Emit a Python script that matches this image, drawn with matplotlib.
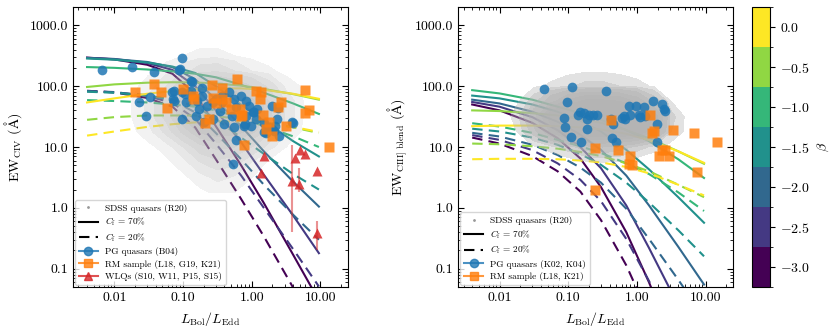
import numpy as np
import matplotlib
matplotlib.use('Agg')
import matplotlib.pyplot as plt
from matplotlib.colors import BoundaryNorm
from matplotlib.cm import ScalarMappable
from matplotlib.lines import Line2D
from matplotlib.ticker import FormatStrFormatter, NullFormatter

plt.rcParams['font.family'] = ['cmr10', 'DejaVu Serif']
plt.rcParams['mathtext.fontset'] = 'cm'
plt.rcParams['axes.formatter.use_mathtext'] = True
plt.rcParams['axes.unicode_minus'] = False
plt.rcParams['font.size'] = 10

# model grid (Eddington ratio) and spectral index values
lam = [0.004, 0.01, 0.03, 0.07, 0.15, 0.3, 0.7, 1.5, 4.0, 9.5]
betas = [-3.0, -2.5, -2.0, -1.5, -1.0, -0.5, 0.0]

# CIV model EWs, rows follow betas
civ_solid = [
    [295, 275, 225, 160, 75, 22, 5.0, 1.2, 0.17, 0.03],
    [292, 280, 240, 185, 100, 40, 12, 3.5, 0.75, 0.18],
    [290, 278, 250, 205, 130, 60, 22, 8.5, 2.7, 1.05],
    [285, 272, 245, 210, 165, 100, 50, 27, 12.5, 7.0],
    [206, 200, 188, 175, 160, 140, 105, 78, 52, 35],
    [97, 107, 114, 116, 115, 111, 102, 90, 74, 60],
    [54, 63, 75, 83, 89, 92, 92, 87, 75, 62],
]
civ_dashed = [
    [84, 79, 64, 46, 21, 6.3, 1.4, 0.34, 0.049, 0.0086],
    [83, 80, 69, 53, 29, 11.4, 3.4, 1.0, 0.21, 0.051],
    [83, 79, 71, 59, 37, 17, 6.3, 2.4, 0.77, 0.30],
    [81, 78, 70, 60, 47, 29, 14.3, 7.7, 3.6, 2.0],
    [59, 57, 54, 50, 46, 40, 30, 22, 15, 10],
    [28, 31, 33, 33, 33, 32, 29, 26, 21, 17],
    [15.4, 18, 21.4, 23.7, 25.4, 26.3, 26.3, 24.9, 21.4, 17.7],
]
# CIII] blend model EWs
ciii_solid = [
    [50, 40, 25, 14, 6.5, 2.2, 0.4, 0.06, 0.004, 0.0004],
    [55, 46, 31, 19, 10, 4.5, 1.1, 0.22, 0.025, 0.004],
    [60, 52, 38, 26, 16, 9, 3.4, 1.1, 0.23, 0.055],
    [70, 63, 50, 38, 27, 18, 9, 4.3, 1.5, 0.57],
    [86, 76, 60, 46, 36, 28, 19, 12.5, 6.3, 3.1],
    [40, 39, 36, 33, 29, 25, 19, 14, 8.5, 5.3],
    [22, 22.5, 22.5, 22, 21, 19.5, 16.5, 13, 8.5, 5.5],
]
ciii_dashed = [
    [14.3, 11.4, 7.1, 4.0, 1.86, 0.63, 0.114, 0.017, 0.0011, 0.0001],
    [15.7, 13.1, 8.9, 5.4, 2.9, 1.29, 0.31, 0.063, 0.0071, 0.0011],
    [17.1, 14.9, 10.9, 7.4, 4.6, 2.6, 0.97, 0.31, 0.066, 0.016],
    [20, 18, 14.3, 10.9, 7.7, 5.1, 2.6, 1.23, 0.43, 0.16],
    [24.6, 21.7, 17.1, 13.1, 10.3, 8.0, 5.4, 3.6, 1.8, 0.89],
    [11.4, 11.1, 10.3, 9.4, 8.3, 7.1, 5.4, 4.0, 2.4, 1.5],
    [6.3, 6.4, 6.4, 6.3, 6.0, 5.6, 4.7, 3.7, 2.4, 1.6],
]

# SDSS density (relative), log x from -2 to 1, log y from 0.25 to 2.75
cloud_logx = np.arange(-2.0, 1.01, 0.25)
cloud_logy = np.arange(0.25, 2.76, 0.25)
cloud_civ = [
    [0, 0, 0, 0, 0, 0.02, 0.04, 0.03, 0.01, 0, 0, 0, 0],
    [0, 0, 0, 0, 0.02, 0.06, 0.1, 0.07, 0.03, 0, 0, 0, 0],
    [0, 0, 0, 0.02, 0.06, 0.15, 0.22, 0.18, 0.08, 0.02, 0, 0, 0],
    [0, 0, 0.02, 0.05, 0.15, 0.35, 0.45, 0.4, 0.25, 0.1, 0.03, 0, 0],
    [0, 0.02, 0.06, 0.18, 0.45, 0.75, 0.85, 0.8, 0.6, 0.3, 0.08, 0.02, 0],
    [0, 0.03, 0.1, 0.3, 0.75, 1, 1, 1, 0.8, 0.45, 0.12, 0.03, 0],
    [0, 0.03, 0.1, 0.3, 0.7, 0.95, 1, 0.95, 0.75, 0.4, 0.12, 0.03, 0],
    [0, 0.02, 0.05, 0.15, 0.4, 0.6, 0.65, 0.55, 0.4, 0.2, 0.06, 0.02, 0],
    [0, 0, 0.02, 0.05, 0.12, 0.2, 0.22, 0.15, 0.08, 0.04, 0.01, 0, 0],
    [0, 0, 0, 0.01, 0.03, 0.05, 0.05, 0.03, 0.01, 0, 0, 0, 0],
    [0, 0, 0, 0, 0, 0, 0, 0, 0, 0, 0, 0, 0],
]
cloud_ciii = [
    [0, 0, 0, 0, 0, 0, 0, 0, 0, 0, 0, 0, 0],
    [0, 0, 0, 0, 0, 0, 0.01, 0, 0, 0, 0, 0, 0],
    [0, 0, 0, 0, 0, 0.02, 0.03, 0.02, 0, 0, 0, 0, 0],
    [0, 0, 0.02, 0.05, 0.12, 0.2, 0.25, 0.2, 0.12, 0.05, 0.01, 0, 0],
    [0, 0.03, 0.2, 0.6, 0.95, 1, 1, 1, 0.9, 0.5, 0.08, 0, 0],
    [0, 0.05, 0.35, 0.85, 1, 1, 1, 1, 1, 0.65, 0.1, 0, 0],
    [0, 0.02, 0.12, 0.35, 0.6, 0.75, 0.75, 0.7, 0.5, 0.2, 0.03, 0, 0],
    [0, 0, 0.02, 0.04, 0.07, 0.1, 0.1, 0.08, 0.05, 0.02, 0, 0, 0],
    [0, 0, 0, 0, 0.01, 0.02, 0.02, 0.01, 0, 0, 0, 0, 0],
    [0, 0, 0, 0, 0, 0, 0, 0, 0, 0, 0, 0, 0],
    [0, 0, 0, 0, 0, 0, 0, 0, 0, 0, 0, 0, 0],
]

# PG quasars (B04), CIV
pg_civ_x = [0.0067, 0.018, 0.038, 0.098, 0.088, 0.13, 0.033, 0.023, 0.029, 0.07,
            0.074, 0.098, 0.098, 0.54, 0.58, 3.9, 1.5, 2.0, 2.2, 0.8,
            0.09, 0.074, 0.072, 0.105, 0.11, 0.137, 0.13, 0.19, 0.19, 0.16,
            0.173, 0.156, 0.225, 0.27, 0.3, 0.37, 0.37, 0.34, 0.47, 0.56,
            0.59, 0.52, 0.7, 0.82, 0.92, 0.82, 1.03, 1.2, 0.98, 0.2,
            0.27, 0.4, 0.78, 0.56, 1.09, 1.15, 2.0, 2.4, 1.52, 1.8,
            2.3, 4.0, 1.6, 2.1, 2.5]
pg_civ_y = [185, 205, 170, 290, 185, 120, 66, 55, 32, 79,
            56, 79, 28.5, 5.3, 13, 26, 17.6, 19.5, 22, 23.6,
            190, 82, 61, 74, 54, 116, 82, 93, 69, 57,
            42, 32, 47, 54, 61, 69, 54, 39, 79, 61,
            45, 32, 69, 56, 47, 32, 37, 42, 22, 26,
            28.5, 23.6, 22, 21, 37, 28.5, 47, 43, 25, 21,
            28.5, 25, 17.3, 18, 15]

# RM sample (L18, G19, K21), CIV
rm_civ_x = [0.02, 0.038, 0.048, 0.059, 0.1, 0.146, 0.14, 0.21, 0.24, 0.26,
            0.27, 0.3, 0.37, 0.37, 0.42, 0.5, 0.61, 0.68, 0.73, 0.78,
            1.15, 1.38, 1.3, 1.47, 1.6, 1.8, 2.0, 2.4, 2.7, 3.1,
            6.0, 6.0, 6.9, 13.5, 0.7]
rm_civ_y = [79, 108, 79, 43, 89, 61, 69, 24.5, 28.5, 104,
            63, 52, 93, 61, 54, 42, 132, 42, 34, 10.6,
            82, 79, 61, 34, 19.5, 26, 15, 45, 54, 22,
            86, 36, 40, 10, 32]

# WLQs (S10, W11, P15, S15), CIV, with error-bar ends
wlq_x = [1.52, 4.2, 5.1, 6.0, 9.0, 1.38, 3.9, 4.9, 9.0]
wlq_y = [7.2, 6.5, 9.1, 7.8, 4.1, 3.8, 2.8, 2.5, 0.39]
wlq_lo = [7.2, 6.5, 9.1, 7.8, 4.1, 3.8, 0.4, 1.8, 0.2]
wlq_hi = [7.2, 6.5, 9.1, 7.8, 4.1, 3.8, 11.0, 4.6, 0.6]

# PG quasars (K02, K04), CIII]
pg_ciii_x = [0.045, 0.114, 0.36, 0.097, 0.087, 0.09, 0.14, 0.15, 0.19, 0.23,
             0.19, 0.11, 0.154, 0.42, 0.45, 0.43, 0.49, 0.66, 0.68, 0.77,
             0.96, 1.06, 1.25, 1.3, 1.74, 2.35, 2.6, 1.98, 1.98, 0.17,
             0.2, 0.6, 0.8, 1.1, 2.5, 0.26]
pg_ciii_y = [91, 96, 83, 54, 30, 21, 33, 37, 28.5, 34,
             19.5, 14.4, 12, 28.5, 23.6, 14, 12, 32, 29, 47,
             47, 34, 45, 32, 57, 50, 39, 23.6, 12, 36,
             33, 30, 33, 31, 42, 33]

# RM sample (L18, K21), CIII]
rm_ciii_x = [0.245, 0.54, 0.79, 0.84, 0.78, 1.53, 1.68, 1.75, 3.4, 6.8,
             14.6, 0.42, 2.1, 2.35, 2.9, 2.6, 7.5, 0.245]
rm_ciii_y = [9.8, 9.1, 7.0, 5.0, 5.2, 33, 17.3, 18, 18.7, 17.3,
             12, 27.5, 7.2, 9.1, 7.2, 9.1, 3.9, 2.0]

blue = '#1f77b4'
orange = '#ff7f0e'
red = '#d62728'
dash = (0, (5, 3))

cmap = plt.get_cmap('viridis', 7)
norm = BoundaryNorm(np.arange(-3.25, 0.3, 0.5), cmap.N)

# stacked density layers for the SDSS cloud
cloud_steps = [0.03, 0.08, 0.15, 0.25, 0.4, 0.55, 0.7]

fig = plt.figure(figsize=(8.3, 3.33), dpi=100)
ax1 = fig.add_axes([0.088, 0.138, 0.331, 0.841])
ax2 = fig.add_axes([0.552, 0.138, 0.331, 0.841])
cax = fig.add_axes([0.906, 0.138, 0.0217, 0.841])

gx, gy = np.meshgrid(10 ** cloud_logx, 10 ** cloud_logy)

panels = [(ax1, civ_solid, civ_dashed, cloud_civ, 0.16),
          (ax2, ciii_solid, ciii_dashed, cloud_ciii, 0.38)]
for ax, solid, dashed, cloud, a in panels:
    for b, s, d in zip(betas, solid, dashed):
        c = cmap(norm(b))
        ax.plot(lam, s, color=c, lw=1.5, zorder=2)
        ax.plot(lam, d, color=c, lw=1.5, ls=dash, zorder=2)
    for t in cloud_steps:
        ax.contourf(gx, gy, np.array(cloud), levels=[t, 10],
                    colors=[(0.7, 0.7, 0.7, a)], zorder=3)

ax1.plot(pg_civ_x, pg_civ_y, 'o', color=blue, ms=7, alpha=0.85, mec='none', zorder=5)
ax1.plot(rm_civ_x, rm_civ_y, 's', color=orange, ms=7, alpha=0.85, mec='none', zorder=6)
wlq_err = [np.array(wlq_y) - np.array(wlq_lo), np.array(wlq_hi) - np.array(wlq_y)]
ax1.errorbar(wlq_x, wlq_y, yerr=wlq_err, fmt='none', ecolor=red, alpha=0.5,
             elinewidth=1.5, zorder=6)
ax1.plot(wlq_x, wlq_y, '^', color=red, ms=7, alpha=0.85, mec='none', zorder=7)

ax2.plot(pg_ciii_x, pg_ciii_y, 'o', color=blue, ms=7, alpha=0.85, mec='none', zorder=5)
ax2.plot(rm_ciii_x, rm_ciii_y, 's', color=orange, ms=7, alpha=0.85, mec='none', zorder=6)

for ax in (ax1, ax2):
    ax.set_xscale('log')
    ax.set_yscale('log')
    ax.set_xlim(0.0025, 25)
    ax.set_ylim(0.05, 2000)
    ax.xaxis.set_major_formatter(FormatStrFormatter('%.2f'))
    ax.yaxis.set_major_formatter(FormatStrFormatter('%.1f'))
    ax.xaxis.set_minor_formatter(NullFormatter())
    ax.yaxis.set_minor_formatter(NullFormatter())
    ax.tick_params(which='both', direction='in', top=True, right=True)
    ax.tick_params(which='major', length=4)
    ax.tick_params(which='minor', length=2)
    ax.set_xlabel(r'$L_{\rm Bol}/L_{\rm Edd}$')

ax1.set_ylabel(r'EW$_{\rm CIV}$ ($\mathrm{Å}$)')
ax2.set_ylabel(r'EW$_{\rm CIII]\ blend}$ ($\mathrm{Å}$)')

base = [Line2D([], [], ls='none', marker='.', ms=2, color='0.6'),
        Line2D([], [], color='k', lw=1.5),
        Line2D([], [], color='k', lw=1.5, ls=dash)]
h_pg = Line2D([], [], color=blue, marker='o', ms=6, alpha=0.8)
h_rm = Line2D([], [], color=orange, marker='s', ms=6, alpha=0.8)
h_wlq = Line2D([], [], color=red, marker='^', ms=6, alpha=0.8)
cf_labels = ['SDSS quasars (R20)', r'$C_{\rm f}$ = 70%', r'$C_{\rm f}$ = 20%']

ax1.legend(base + [h_pg, h_rm, h_wlq],
           cf_labels + ['PG quasars (B04)', 'RM sample (L18, G19, K21)',
                        'WLQs (S10, W11, P15, S15)'],
           loc='lower left', fontsize=6.7, labelspacing=0.35, borderaxespad=0.25)
ax2.legend(base + [h_pg, h_rm],
           cf_labels + ['PG quasars (K02, K04)', 'RM sample (L18, K21)'],
           loc='lower left', fontsize=6.7, labelspacing=0.35, borderaxespad=0.25)

cb = fig.colorbar(ScalarMappable(norm=norm, cmap=cmap), cax=cax, ticks=betas)
cb.ax.set_yticklabels([r'$%.1f$' % b for b in betas])
cb.set_label(r'$\beta$')

fig.savefig('out.png', dpi=100)
